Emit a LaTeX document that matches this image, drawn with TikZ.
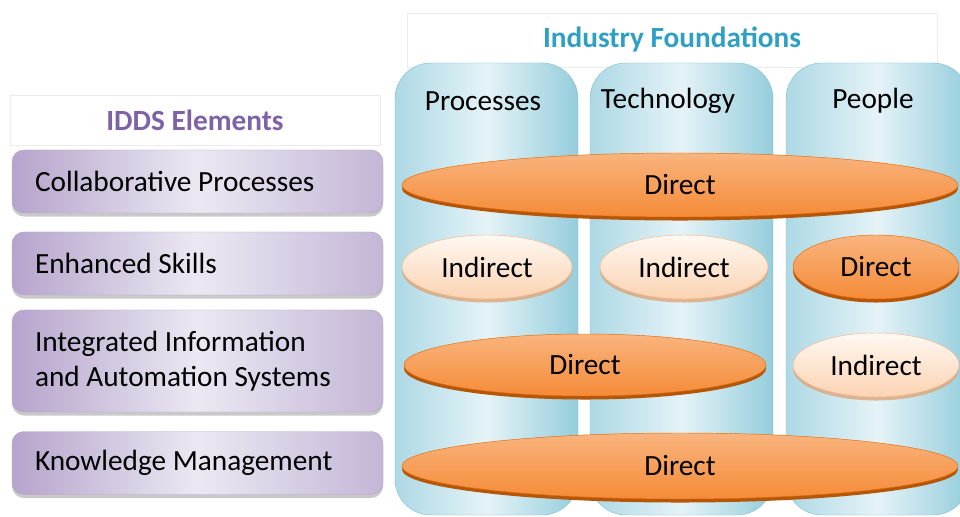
\documentclass[tikz,border=0pt]{standalone}
\usepackage{fontspec}
\setmainfont{Carlito}
\usetikzlibrary{positioning,shapes.geometric,shadows}

\definecolor{iddsPurple}{HTML}{7E62A6}
\definecolor{ifTeal}{HTML}{2FA0C4}
\definecolor{boxDark}{HTML}{B5A4CC}
\definecolor{boxLight}{HTML}{ECE8F2}
\definecolor{colDark}{HTML}{95CDDC}
\definecolor{colLight}{HTML}{E5F3F7}
\definecolor{colEdge}{HTML}{82C2D3}
\definecolor{dirTop}{HTML}{F9B47E}
\definecolor{dirBot}{HTML}{F58B38}
\definecolor{dirEdge}{HTML}{E46C0A}
\definecolor{indTop}{HTML}{FFF8F2}
\definecolor{indBot}{HTML}{FBD3B2}
\definecolor{indEdge}{HTML}{F5B889}

\def\px{0.03cm}

\begin{document}
\begin{tikzpicture}[x=0.03cm,y=-0.03cm,
    every node/.style={font=\fontsize{25}{30}\selectfont},
    hdr/.style={draw=black!8, fill=white, inner sep=0pt},
    elem/.style={draw=boxDark, rounded corners=12*\px, left color=boxDark,
      right color=boxDark!80!white, middle color=boxLight,
      minimum width=371*\px, text width=325*\px, align=flush left,
      drop shadow={shadow xshift=0pt, shadow yshift=-3pt, fill=black!35, opacity=.6}},
    pillar/.style={draw=colEdge, rounded corners=36*\px, left color=colDark!70!colLight,
      right color=colDark, middle color=colLight, minimum width=183*\px,
      minimum height=452*\px, inner sep=0pt},
    direct/.style={ellipse, draw=dirEdge, top color=dirTop, bottom color=dirBot,
      inner sep=0pt,
      drop shadow={shadow xshift=0pt, shadow yshift=-3pt, fill=dirEdge!80!black, opacity=1}},
    indirect/.style={ellipse, draw=indEdge, top color=indTop, bottom color=indBot,
      inner sep=0pt, minimum height=64*\px,
      drop shadow={shadow xshift=0pt, shadow yshift=-3pt, fill=indEdge!90!black, opacity=.8}}]
  \useasboundingbox (0,0) rectangle (960,517);
  \clip (0,0) rectangle (960,517);
  \fill[white] (0,0) rectangle (960,517);

  % left side: elements
  \node[hdr, minimum width=370*\px, minimum height=50*\px] (hdrIDDS) at (195,120)
    {\bfseries\color{iddsPurple}IDDS Elements};
  \node[elem, minimum height=63*\px] (elemCollab) at (197.5,181.5) {Collaborative Processes};
  \node[elem, minimum height=63*\px] (elemSkills) at (197.5,263.5) {Enhanced Skills};
  \node[elem, minimum height=102*\px] (elemInfo) at (197.5,361)
    {Integrated Information\\and Automation Systems};
  \node[elem, minimum height=63*\px] (elemKM) at (197.5,463) {Knowledge Management};

  % right side: foundations
  \node[hdr, minimum width=530*\px, minimum height=54*\px] (hdrIF) at (672,40)
    {\bfseries\color{ifTeal}Industry Foundations};
  \node[pillar] (colProc) at (486.5,289) {};
  \node[pillar] (colTech) at (681.5,289) {};
  \node[pillar] (colPeople) at (877.5,289) {};
  \node (lblProc) at (483,101) {Processes};
  \node (lblTech) at (668,101) {Technology};
  \node (lblPeople) at (873,101) {People};

  % relations
  \node[direct, minimum width=556*\px, minimum height=64*\px] (relCollab) at (680,185) {Direct};
  \node[indirect, minimum width=170*\px] (relSkillsProc) at (487,267) {Indirect};
  \node[indirect, minimum width=168*\px] (relSkillsTech) at (684,267) {Indirect};
  \node[direct, minimum width=166*\px, minimum height=64*\px] (relSkillsPeople) at (876,267) {Direct};
  \node[direct, minimum width=362*\px, minimum height=62*\px] (relInfo) at (585,365) {Direct};
  \node[indirect, minimum width=166*\px] (relInfoPeople) at (876,365) {Indirect};
  \node[direct, minimum width=556*\px, minimum height=66*\px] (relKM) at (680,466) {Direct};
\end{tikzpicture}
\end{document}
